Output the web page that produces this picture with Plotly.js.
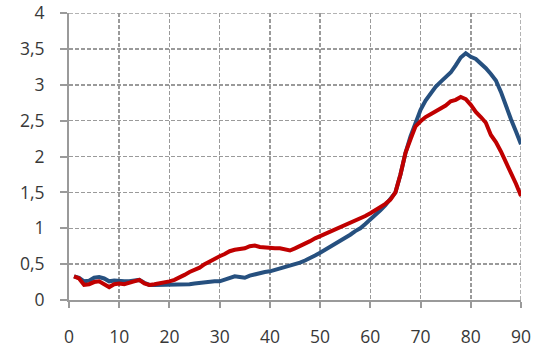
<!DOCTYPE html>
<html>
<head>
<meta charset="utf-8">
<script src="https://cdn.plot.ly/plotly-3.0.1.min.js"></script>
<style>html,body{margin:0;padding:0;background:#fff;}#chart{width:542px;height:350px;}</style>
</head>
<body>
<div id="chart"></div>
<script>
// Ages 1..90
const ages = Array.from({length: 90}, (_, i) => i + 1);

const blueValues = [
  0.33,0.31,0.26,0.27,0.31,0.32,0.30,0.26,0.27,0.26,
  0.26,0.26,0.27,0.28,0.24,0.21,0.21,0.21,0.21,0.21,
  0.21,0.21,0.22,0.22,0.23,0.24,0.25,0.25,0.26,0.26,
  0.28,0.30,0.33,0.32,0.31,0.34,0.36,0.38,0.39,0.40,
  0.42,0.44,0.45,0.47,0.49,0.52,0.55,0.58,0.62,0.66,
  0.70,0.74,0.78,0.82,0.87,0.91,0.96,1.00,1.06,1.12,
  1.18,1.25,1.32,1.40,1.50,1.75,2.05,2.28,2.47,2.65,
  2.78,2.88,2.97,3.04,3.10,3.17,3.27,3.38,3.44,3.39,
  3.36,3.30,3.23,3.15,3.06,2.90,2.70,2.52,2.35,2.17
];

const redValues = [
  0.33,0.30,0.21,0.22,0.25,0.26,0.22,0.18,0.22,0.23,
  0.22,0.24,0.26,0.28,0.23,0.21,0.22,0.23,0.25,0.26,
  0.28,0.31,0.35,0.39,0.42,0.45,0.50,0.54,0.58,0.61,
  0.64,0.68,0.70,0.71,0.72,0.75,0.76,0.74,0.73,0.72,
  0.72,0.72,0.70,0.69,0.72,0.75,0.79,0.82,0.86,0.89,
  0.92,0.96,0.99,1.02,1.05,1.07,1.10,1.14,1.17,1.21,
  1.25,1.29,1.34,1.40,1.50,1.75,2.05,2.24,2.42,2.49,
  2.55,2.59,2.63,2.68,2.71,2.77,2.79,2.83,2.80,2.72,
  2.62,2.55,2.47,2.30,2.20,2.07,1.92,1.80,1.62,1.45
];

const xTicks = [0,10,20,30,40,50,60,70,80,90];
const yTicks = [0,0.5,1,1.5,2,2.5,3,3.5,4];

const traces = [
  {x: ages, y: blueValues, type: 'scatter', mode: 'lines',
   line: {color: '#26507F', width: 4}, hoverinfo: 'skip'},
  {x: ages, y: redValues, type: 'scatter', mode: 'lines',
   line: {color: '#C00000', width: 4}, hoverinfo: 'skip'}
];

const tickFont = {family: '"Open Sans", "Noto Sans", sans-serif', size: 17.5, color: '#383838'};
const gridDash = '4px,2px';
const gridColor = '#9a9a9a';

const layout = {
  width: 542, height: 350,
  margin: {l: 69, r: 21, t: 13, b: 50, pad: 0},
  paper_bgcolor: '#ffffff', plot_bgcolor: '#ffffff',
  showlegend: false,
  separators: ', ',
  xaxis: {
    range: [0, 90], tickvals: xTicks, ticktext: xTicks.map(String),
    showgrid: true, gridcolor: gridColor, griddash: gridDash, gridwidth: 1.5,
    showline: true, linecolor: '#9a9a9a', linewidth: 2,
    ticks: 'outside', ticklen: 6, tickcolor: '#9a9a9a', tickwidth: 2,
    ticklabelstandoff: 14,
    zeroline: false, tickfont: tickFont, fixedrange: true
  },
  yaxis: {
    range: [0, 4], tickvals: yTicks,
    showgrid: true, gridcolor: gridColor, griddash: gridDash, gridwidth: 1.5,
    showline: true, linecolor: '#9a9a9a', linewidth: 2,
    ticks: 'outside', ticklen: 7, tickcolor: '#9a9a9a', tickwidth: 2,
    ticklabelstandoff: 12,
    zeroline: false, tickfont: tickFont, fixedrange: true
  },
  shapes: [
    {type: 'line', xref: 'x', yref: 'paper', x0: 90, x1: 90, y0: 0, y1: 1,
     line: {color: gridColor, width: 1.5, dash: gridDash}, layer: 'below'},
    {type: 'line', xref: 'paper', yref: 'y', x0: 0, x1: 1, y0: 4, y1: 4,
     line: {color: gridColor, width: 1.5, dash: gridDash}, layer: 'below'}
  ]
};

Plotly.newPlot('chart', traces, layout, {displayModeBar: false, staticPlot: true});
</script>
</body>
</html>
